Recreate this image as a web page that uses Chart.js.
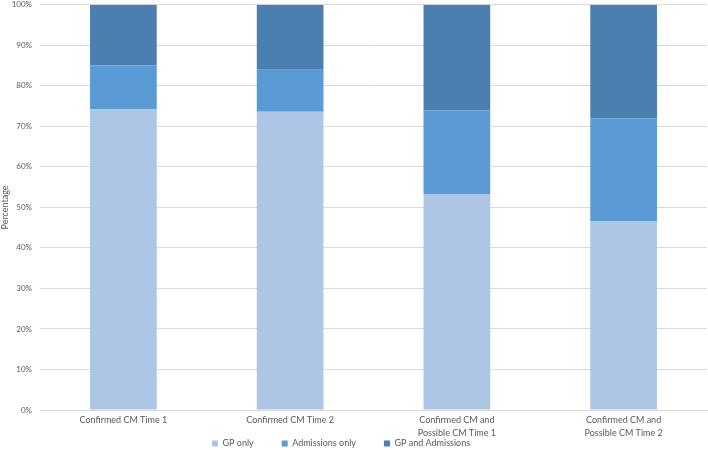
<!DOCTYPE html>
<html>
<head>
<meta charset="utf-8">
<script src="https://cdn.jsdelivr.net/npm/chart.js@4/dist/chart.umd.min.js"></script>
<style>
  html, body { margin: 0; padding: 0; background: #fff; }
  #wrap { width: 708px; height: 450px; position: relative; }
</style>
</head>
<body>
<div id="wrap"><canvas id="c" width="708" height="450"></canvas></div>
<script>
const categories = [
  "Confirmed CM Time 1",
  "Confirmed CM Time 2",
  ["Confirmed CM and", "Possible CM Time 1"],
  ["Confirmed CM and", "Possible CM Time 2"]
];
const gpOnly = [74.2, 73.6, 53.2, 46.5];
const admissionsOnly = [10.8, 10.4, 20.8, 25.5];
const gpAndAdmissions = [15.0, 16.0, 26.0, 28.0];
const seriesNames = ["GP only", "Admissions only", "GP and Admissions"];
const yTicks = [0, 10, 20, 30, 40, 50, 60, 70, 80, 90, 100];

const textColor = '#595959';
const fontFamily = 'Lato, "Open Sans", sans-serif';
const LEGEND_PAD = 28;
const X_H = 30;
const LEGEND_H = 450 - 410 - X_H;

const legendTweak = {
  id: 'legendTweak',
  beforeLayout(chart) {
    const lg = chart.legend;
    if (lg && !lg._patched) {
      const orig = lg.fit.bind(lg);
      lg.fit = function () { orig(); this.height = LEGEND_H; };
      lg._patched = true;
    }
  },
  beforeDraw(chart) {
    const lg = chart.legend;
    if (!lg || !lg.legendHitBoxes || !lg.legendHitBoxes.length) return;
    const dx = 212 - lg.legendHitBoxes[0].left;
    lg.left += dx; lg.right += dx;
    lg.legendHitBoxes.forEach(b => b.left += dx);
    const desiredRowTop = 439;
    lg.top = desiredRowTop - LEGEND_PAD;
    lg.bottom = 450;
  }
};

new Chart(document.getElementById('c'), {
  type: 'bar',
  data: {
    labels: categories,
    datasets: [
      { label: seriesNames[0], data: gpOnly, backgroundColor: '#adc6e5' },
      { label: seriesNames[1], data: admissionsOnly, backgroundColor: '#5b9bd5' },
      { label: seriesNames[2], data: gpAndAdmissions, backgroundColor: '#4a7fb0' }
    ]
  },
  options: {
    responsive: false,
    animation: false,
    layout: { padding: { top: 0, right: 1, left: 0, bottom: 0 } },
    datasets: { bar: { categoryPercentage: 1.0, barPercentage: 0.4, borderWidth: 0 } },
    plugins: {
      legend: {
        position: 'bottom',
        labels: {
          boxWidth: 6, boxHeight: 6, padding: LEGEND_PAD,
          color: textColor,
          font: { family: fontFamily, size: 9 }
        }
      },
      tooltip: { enabled: false }
    },
    scales: {
      x: {
        stacked: true,
        grid: { display: false, drawTicks: false },
        border: { display: true, color: '#d9d9d9' },
        afterFit(scale) { scale.height = X_H; },
        ticks: { color: textColor, font: { family: fontFamily, size: 9, lineHeight: 1.38 }, padding: 4, maxRotation: 0, autoSkip: false }
      },
      y: {
        stacked: true,
        min: 0, max: 100,
        afterBuildTicks(scale) { scale.ticks = yTicks.map(v => ({ value: v })); },
        afterFit(scale) { scale.width = 40; },
        grid: { color: '#d9d9d9', drawTicks: true, tickLength: 8, tickColor: 'rgba(0,0,0,0)' },
        border: { display: false },
        ticks: {
          color: textColor, font: { family: fontFamily, size: 8 }, padding: 0,
          callback: v => v + '%'
        },
        title: { display: true, text: 'Percentage', color: textColor, font: { family: fontFamily, size: 9 }, padding: 0 }
      }
    }
  },
  plugins: [legendTweak]
});
</script>
</body>
</html>
